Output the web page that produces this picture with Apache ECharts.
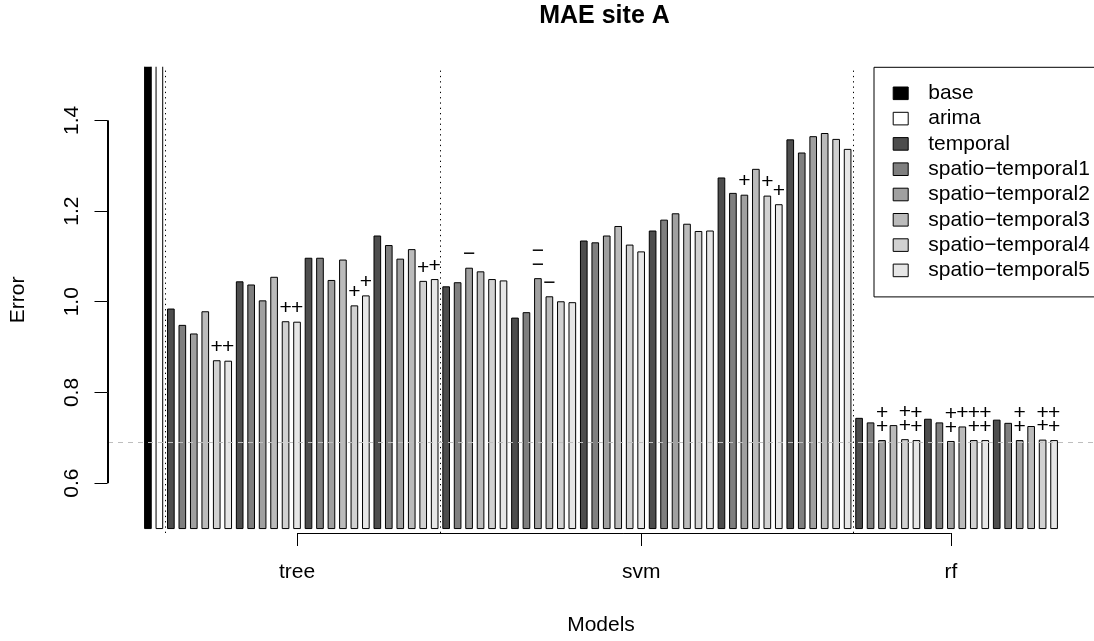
<!DOCTYPE html>
<html>
<head>
<meta charset="utf-8">
<script src="https://cdn.jsdelivr.net/npm/echarts@6/dist/echarts.min.js"></script>
<style>
html,body{margin:0;padding:0;background:#ffffff;}
#chart{width:1094px;height:641px;}
</style>
</head>
<body>
<div id="chart"></div>
<script>
// ---------------- data ----------------
const seriesNames = ['base', 'arima', 'temporal', 'spatio\u2212temporal1', 'spatio\u2212temporal2',
                     'spatio\u2212temporal3', 'spatio\u2212temporal4', 'spatio\u2212temporal5'];
const seriesColors = ['#000000', '#FFFFFF', '#4D4D4D', '#7F7F7F', '#A0A0A0', '#BBBBBB', '#D1D1D1', '#E6E6E6'];

const models = ['tree', 'svm', 'rf'];
const configsPerModel = [4, 6, 3];
const modelTickAt = [13, 43, 70];

const baseValue = [1.60];
const arimaValue = [1.60];

// one entry per model configuration: tree x4, svm x6, rf x3
const temporal = [0.984, 1.044, 1.096, 1.145, 1.033, 0.964, 1.134, 1.156, 1.273, 1.357, 0.743, 0.741, 0.739];
const spatioTemporal1 = [0.948, 1.037, 1.096, 1.124, 1.042, 0.976, 1.130, 1.180, 1.239, 1.328, 0.733, 0.733, 0.732];
const spatioTemporal2 = [0.929, 1.002, 1.047, 1.094, 1.074, 1.051, 1.145, 1.194, 1.235, 1.364, 0.694, 0.692, 0.694];
const spatioTemporal3 = [0.978, 1.054, 1.092, 1.115, 1.066, 1.011, 1.166, 1.171, 1.292, 1.371, 0.727, 0.724, 0.725];
const spatioTemporal4 = [0.870, 0.956, 0.991, 1.045, 1.049, 1.000, 1.125, 1.155, 1.233, 1.358, 0.696, 0.694, 0.695];
const spatioTemporal5 = [0.869, 0.955, 1.013, 1.049, 1.046, 0.998, 1.110, 1.156, 1.214, 1.336, 0.694, 0.694, 0.694];

// significance marks drawn above bars
const marksTemporal = ['', '', '', '', '', '', '', '', '', '', '', '', ''];
const marksST1 = ['', '', '', '', '', '', '', '', '', '', '', '', ''];
const marksST2 = ['', '', '', '', '\u2212', '\u2212\u2212', '', '', '+', '', '++', '++', '++'];
const marksST3 = ['', '', '', '', '', '\u2212', '', '', '', '', '', '+', ''];
const marksST4 = ['+', '+', '+', '+', '', '', '', '', '+', '', '++', '++', '++'];
const marksST5 = ['+', '+', '+', '+', '', '', '', '', '+', '', '++', '++', '++'];

const yTicks = [0.6, 0.8, 1.0, 1.2, 1.4];

// ---------------- layout constants ----------------
const FONT = '"Liberation Sans", Arial, Helvetica, sans-serif';
const GRID_LEFT = 107, GRID_RIGHT = -8, GRID_TOP = 66.7, GRID_BOTTOM = 106;
const X_MIN = -3.48, X_MAX = 82.48;
const Y_MIN = 0.4902, Y_MAX = 1.5183;
const BAR_BASE = 0.5;
const BAR_W = 0.58;
const MARK_STEP = 0.03;
const TICK_PX = 13;

// ---------------- build items ----------------
const variantValues = [temporal, spatioTemporal1, spatioTemporal2, spatioTemporal3, spatioTemporal4, spatioTemporal5];
const variantMarks = [marksTemporal, marksST1, marksST2, marksST3, marksST4, marksST5];
const nVariants = variantValues.length;

const itemsPerSeries = [
  baseValue.map(v => ({x: 0, v: v, m: ''})),
  arimaValue.map(v => ({x: 1, v: v, m: ''}))
];
for (let k = 0; k < nVariants; k++) {
  itemsPerSeries.push(variantValues[k].map((v, c) => ({x: 2 + nVariants * c + k, v: v, m: variantMarks[k][c]})));
}

// separators between arima | tree | svm | rf
const separators = [1.5];
let acc = 1.5;
configsPerModel.forEach(n => { acc += n * nVariants; separators.push(acc); });
separators.pop();

const allValues = variantValues.flat();
const refLine = Math.min.apply(null, allValues);

function makeRender(items, fill) {
  return function (params, api) {
    const x = api.value(0), v = api.value(1);
    const top = api.coord([x, v]);
    const bot = api.coord([x, BAR_BASE]);
    const w = api.size([BAR_W, 0])[0];
    const children = [{
      type: 'rect',
      shape: {x: top[0] - w / 2, y: top[1], width: w, height: bot[1] - top[1]},
      style: {fill: fill, stroke: '#000000', lineWidth: 1}
    }];
    const m = items[params.dataIndex].m;
    for (let j = 0; j < m.length; j++) {
      const p = api.coord([x, v + MARK_STEP * (j + 1)]);
      children.push({
        type: 'text', x: p[0], y: p[1],
        style: {text: m[j], fill: '#000000', fontSize: 21, fontFamily: FONT, align: 'center', verticalAlign: 'middle'}
      });
    }
    return {type: 'group', children: children};
  };
}

const series = itemsPerSeries.map((items, s) => ({
  type: 'custom',
  name: seriesNames[s],
  coordinateSystem: 'cartesian2d',
  clip: true,
  z: 2,
  itemStyle: {color: seriesColors[s], borderColor: '#000000', borderWidth: 1},
  encode: {x: 0, y: 1},
  data: items.map(d => [d.x, d.v]),
  renderItem: makeRender(items, seriesColors[s])
}));

// R-style y axis: line from first to last tick, ticks outside the plot region
const crisp = c => Math.round(c) + 0.5;
series.push({
  type: 'custom',
  name: '_yaxis',
  coordinateSystem: 'cartesian2d',
  clip: false,
  silent: true,
  z: 6,
  encode: {x: 0, y: 1},
  data: yTicks.map(t => [X_MIN, t]),
  renderItem: function (params, api) {
    const i = params.dataIndex;
    const p = api.coord([api.value(0), api.value(1)]);
    const ax = crisp(p[0] - 0.5);
    const children = [{
      type: 'line',
      shape: {x1: ax - TICK_PX, y1: crisp(p[1] - 0.5), x2: ax, y2: crisp(p[1] - 0.5)},
      style: {stroke: '#000000', lineWidth: 1}
    }];
    if (i < yTicks.length - 1) {
      const q = api.coord([X_MIN, yTicks[i + 1]]);
      children.push({
        type: 'rect',
        shape: {x: ax - 0.5, y: q[1], width: 1, height: p[1] - q[1]},
        style: {fill: '#000000'}
      });
    }
    return {type: 'group', children: children};
  }
});

const solid = {type: 'solid', color: '#000000', width: 1};
series.push({
  type: 'line',
  name: '_guides',
  data: [],
  clip: false,
  silent: true,
  z: 5,
  markLine: {
    silent: true,
    animation: false,
    symbol: ['none', 'none'],
    label: {show: false},
    lineStyle: solid,
    data: [
      ...separators.map(x => ({xAxis: x, lineStyle: {type: [1.3, 4], color: '#000000', width: 1}})),
      {yAxis: refLine, lineStyle: {type: [5, 5], color: '#BEBEBE', width: 1}},
      [{coord: [X_MIN, yTicks[0]], lineStyle: solid}, {coord: [X_MIN, yTicks[yTicks.length - 1]]}],
      [{coord: [modelTickAt[0], Y_MIN], lineStyle: solid}, {coord: [modelTickAt[modelTickAt.length - 1], Y_MIN]}]
    ]
  }
});

const option = {
  animation: false,
  backgroundColor: '#ffffff',
  textStyle: {fontFamily: FONT},
  title: {
    text: 'MAE site A',
    left: 604.5,
    textAlign: 'center',
    top: 3.6,
    padding: 0,
    textStyle: {fontSize: 25, fontWeight: 'bold', lineHeight: 25, color: '#000000', fontFamily: FONT}
  },
  legend: {
    data: seriesNames,
    orient: 'vertical',
    left: 874,
    top: 67.3,
    padding: [15.5, 40, 16, 18.7],
    itemWidth: 15,
    itemHeight: 12.6,
    itemGap: 4.3,
    icon: 'rect',
    selectedMode: false,
    borderColor: '#000000',
    borderWidth: 1,
    borderRadius: 0,
    itemStyle: {borderColor: '#000000', borderWidth: 1},
    textStyle: {fontSize: 21, lineHeight: 21, color: '#000000', fontFamily: FONT, padding: [0, 0, 0, 15]}
  },
  grid: {left: GRID_LEFT, right: GRID_RIGHT, top: GRID_TOP, bottom: GRID_BOTTOM, containLabel: false},
  xAxis: {
    type: 'value',
    min: X_MIN,
    max: X_MAX,
    splitLine: {show: false},
    axisLine: {show: false},
    axisTick: {show: true, customValues: modelTickAt, length: TICK_PX, lineStyle: {color: '#000000', width: 1}},
    axisLabel: {
      show: true, customValues: modelTickAt, margin: 29, fontSize: 21, lineHeight: 21, color: '#000000', fontFamily: FONT,
      formatter: v => models[modelTickAt.indexOf(v)] || ''
    },
    name: 'Models',
    nameLocation: 'middle',
    nameGap: 82,
    nameTextStyle: {fontSize: 21, lineHeight: 21, color: '#000000', fontFamily: FONT}
  },
  yAxis: {
    type: 'value',
    min: Y_MIN,
    max: Y_MAX,
    splitLine: {show: false},
    axisLine: {show: false},
    axisTick: {show: false},
    axisLabel: {
      show: true, customValues: yTicks, rotate: 90, margin: 25, fontSize: 21, lineHeight: 21, color: '#000000', fontFamily: FONT,
      formatter: v => v.toFixed(1)
    },
    name: 'Error',
    nameLocation: 'middle',
    nameRotate: 90,
    nameGap: 79,
    nameTextStyle: {fontSize: 21, lineHeight: 21, color: '#000000', fontFamily: FONT}
  },
  series: series
};

const chart = echarts.init(document.getElementById('chart'), null, {renderer: 'canvas'});
chart.setOption(option);
</script>
</body>
</html>
